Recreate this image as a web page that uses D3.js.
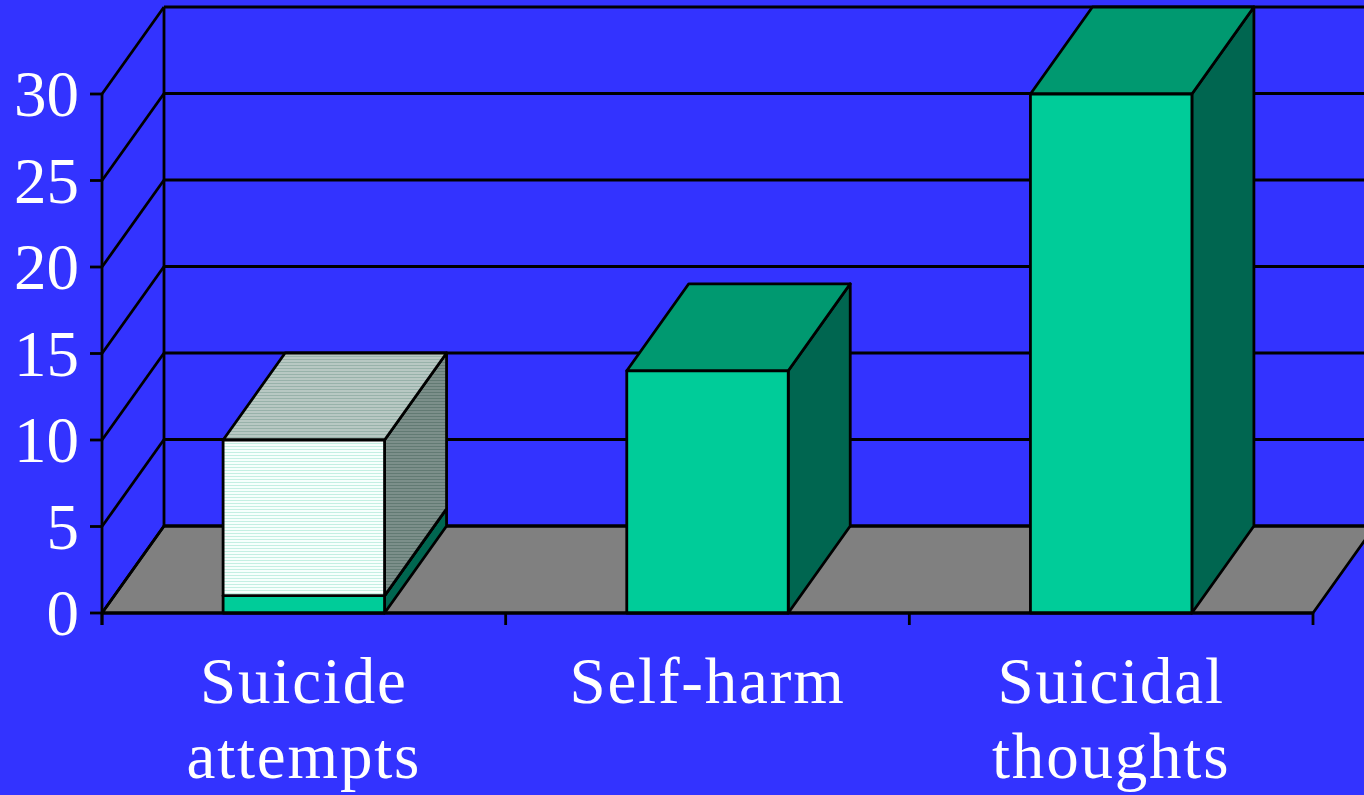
<!DOCTYPE html>
<html>
<head>
<meta charset="utf-8">
<script src="https://cdn.jsdelivr.net/npm/d3@7"></script>
<style>
  html, body { margin: 0; padding: 0; background: #3333ff; overflow: hidden; }
  svg { display: block; }
</style>
</head>
<body>
<svg id="chart"></svg>
<script>
// data
let categories = ["Suicide attempts", "Self-harm", "Suicidal thoughts"];
let labelLines = [["Suicide", "attempts"], ["Self-harm"], ["Suicidal", "thoughts"]];
let baseValues = [1, 14, 30];     // solid green series
let topValues = [9, 0, 0];        // patterned series on top
let yTicks = [0, 5, 10, 15, 20, 25, 30];

let width = 1364, height = 795;
let depthX = 62, depthY = -87;   // 3d offset front -> back
let sw = 2.8;

let svg = d3.select("#chart")
  .attr("width", width)
  .attr("height", height)
  .attr("viewBox", [0, 0, width, height]);

svg.append("rect").attr("width", width).attr("height", height).attr("fill", "#3333ff");

// patterns for the white series
let defs = svg.append("defs");
function stripe(id, bg, line) {
  let p = defs.append("pattern").attr("id", id)
    .attr("patternUnits", "userSpaceOnUse")
    .attr("width", 4).attr("height", 3);
  p.append("rect").attr("width", 4).attr("height", 3).attr("fill", bg);
  p.append("rect").attr("y", 2).attr("width", 4).attr("height", 1).attr("fill", line);
}
stripe("patFront", "#f6fffc", "#c4efe2");
stripe("patTop", "#b8c8c3", "#98b2aa");
stripe("patSide", "#7c8f8a", "#627a73");

let x = d3.scaleBand().domain(categories).range([102, 1313]).paddingInner(0.6).paddingOuter(0.3);
let y = d3.scaleLinear().domain([0, 30]).range([613, 94]);

let x0 = 102, x1 = 1313;
let lineStyle = (sel) => sel.attr("stroke", "#000").attr("stroke-width", sw).attr("fill", "none");

// floor
svg.append("path")
  .attr("d", `M${x0},${y(0)} L${x0 + depthX},${y(0) + depthY} L${x1 + depthX},${y(0) + depthY} L${x1},${y(0)} Z`)
  .attr("fill", "#808080").attr("stroke", "#000").attr("stroke-width", sw).attr("stroke-linejoin", "round");

// back wall grid
let grid = svg.append("g");
grid.selectAll("line.back").data(yTicks).join("line")
  .attr("x1", x0 + depthX).attr("x2", x1 + depthX)
  .attr("y1", (d) => y(d) + depthY).attr("y2", (d) => y(d) + depthY)
  .call(lineStyle);
// left wall diagonals
grid.selectAll("line.side").data(yTicks).join("line")
  .attr("x1", x0).attr("x2", x0 + depthX)
  .attr("y1", (d) => y(d)).attr("y2", (d) => y(d) + depthY)
  .call(lineStyle);
grid.append("line")
  .attr("x1", x0 + depthX).attr("x2", x0 + depthX)
  .attr("y1", y(30) + depthY).attr("y2", y(0) + depthY)
  .call(lineStyle);

// bars
let segments = [];
categories.forEach((c, i) => {
  segments.push({ cat: c, y0: 0, y1: baseValues[i], front: "#00cc99", top: "#009970", side: "#006650" });
  if (topValues[i] > 0) {
    segments.push({ cat: c, y0: baseValues[i], y1: baseValues[i] + topValues[i],
      front: "url(#patFront)", top: "url(#patTop)", side: "url(#patSide)" });
  }
});

let bars = svg.append("g").selectAll("g").data(segments).join("g")
  .attr("stroke", "#000").attr("stroke-width", sw).attr("stroke-linejoin", "round");

bars.append("path")
  .attr("fill", (d) => d.side)
  .attr("d", (d) => {
    let r = x(d.cat) + x.bandwidth();
    return `M${r},${y(d.y0)} L${r},${y(d.y1)} L${r + depthX},${y(d.y1) + depthY} L${r + depthX},${y(d.y0) + depthY} Z`;
  });
bars.append("path")
  .attr("fill", (d) => d.top)
  .attr("d", (d) => {
    let l = x(d.cat), r = l + x.bandwidth(), t = y(d.y1);
    return `M${l},${t} L${l + depthX},${t + depthY} L${r + depthX},${t + depthY} L${r},${t} Z`;
  });
bars.append("rect")
  .attr("fill", (d) => d.front)
  .attr("x", (d) => x(d.cat))
  .attr("y", (d) => y(d.y1))
  .attr("width", x.bandwidth())
  .attr("height", (d) => y(d.y0) - y(d.y1));

// front axes
let axes = svg.append("g");
axes.append("line").attr("x1", x0).attr("x2", x0).attr("y1", y(30)).attr("y2", y(0) + 12).call(lineStyle);
axes.append("line").attr("x1", x0).attr("x2", x1).attr("y1", y(0)).attr("y2", y(0)).call(lineStyle);
axes.selectAll("line.ytick").data(yTicks).join("line")
  .attr("x1", x0 - 12).attr("x2", x0)
  .attr("y1", (d) => y(d)).attr("y2", (d) => y(d))
  .call(lineStyle);

let step = x.step();
let bounds = d3.range(categories.length + 1).map((i) => x0 + i * step);
axes.selectAll("line.xtick").data(bounds).join("line")
  .attr("x1", (d) => d).attr("x2", (d) => d)
  .attr("y1", y(0)).attr("y2", y(0) + 12)
  .call(lineStyle);

// labels
let font = "'Liberation Serif', 'Times New Roman', serif";
svg.append("g").selectAll("text").data(yTicks).join("text")
  .attr("x", 79)
  .attr("y", (d) => y(d) + 22)
  .attr("text-anchor", "end")
  .attr("fill", "#fff")
  .style("font-family", font)
  .style("font-size", "65px")
  .text((d) => d);

let catLabels = svg.append("g").selectAll("text").data(categories).join("text")
  .attr("text-anchor", "middle")
  .attr("fill", "#fff")
  .style("font-family", font)
  .style("font-size", "65px")
  .style("letter-spacing", "1.8px");

catLabels.selectAll("tspan").data((d, i) => labelLines[i].map((t) => ({ t: t, c: d }))).join("tspan")
  .attr("x", (d) => x(d.c) + x.bandwidth() / 2)
  .attr("y", (d, j) => 703 + j * 75)
  .text((d) => d.t);
</script>
</body>
</html>
